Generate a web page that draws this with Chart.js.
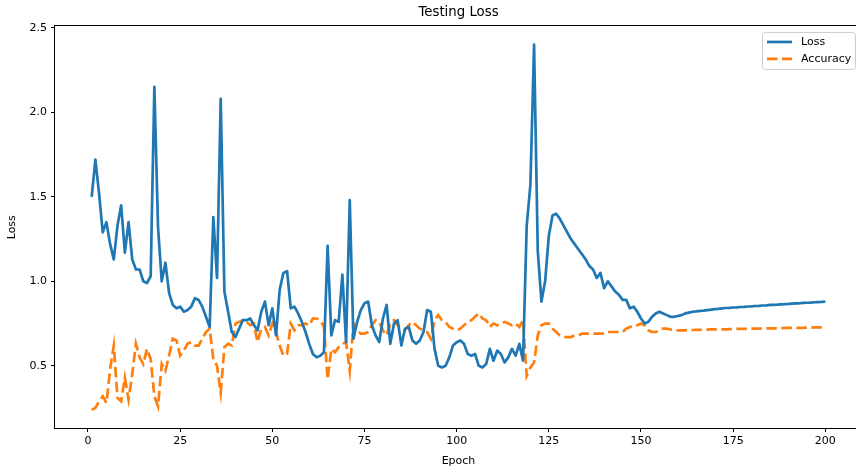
<!DOCTYPE html>
<html>
<head>
<meta charset="utf-8">
<script src="https://cdn.jsdelivr.net/npm/chart.js@4.4.1/dist/chart.umd.min.js"></script>
<style>
  html, body { margin: 0; padding: 0; background: #fff; overflow: hidden; }
  #wrap { width: 856px; height: 471px; overflow: hidden; }
</style>
</head>
<body>
<div id="wrap"><canvas id="lossChart" width="864" height="471"></canvas></div>
<script>
// testing loss per epoch
const lossValues = [
  1.50, 1.72, 1.52, 1.29, 1.35, 1.22, 1.13, 1.33, 1.45, 1.17,
  1.35, 1.13, 1.07, 1.07, 1.00, 0.99, 1.03, 2.15, 1.32, 1.00,
  1.11, 0.93, 0.86, 0.84, 0.85, 0.82, 0.83, 0.85, 0.90, 0.89,
  0.85, 0.79, 0.73, 1.38, 1.02, 2.08, 0.94, 0.82, 0.70, 0.67,
  0.72, 0.77, 0.77, 0.78, 0.74, 0.71, 0.82, 0.88, 0.74, 0.84,
  0.68, 0.95, 1.05, 1.06, 0.84, 0.85, 0.81, 0.76, 0.70, 0.63,
  0.57, 0.55, 0.56, 0.58, 1.21, 0.68, 0.77, 0.76, 1.04, 0.64,
  1.48, 0.66, 0.76, 0.83, 0.87, 0.88, 0.74, 0.68, 0.64, 0.78,
  0.86, 0.63, 0.75, 0.77, 0.62, 0.72, 0.73, 0.65, 0.63, 0.65,
  0.70, 0.83, 0.82, 0.60, 0.50, 0.49, 0.50, 0.55, 0.62, 0.64,
  0.65, 0.63, 0.57, 0.56, 0.57, 0.50, 0.49, 0.51, 0.60, 0.53,
  0.59, 0.57, 0.52, 0.55, 0.60, 0.56, 0.63, 0.53, 1.33, 1.57,
  2.40, 1.18, 0.88, 1.00, 1.27, 1.39, 1.40, 1.37, 1.33, 1.29,
  1.25, 1.22, 1.19, 1.16, 1.13, 1.09, 1.07, 1.02, 1.05, 0.96,
  1.00, 0.97, 0.94, 0.92, 0.89, 0.89, 0.84, 0.85, 0.82, 0.78,
  0.75, 0.76, 0.79, 0.81, 0.82, 0.81, 0.80, 0.79, 0.79, 0.795,
  0.80, 0.81, 0.815, 0.82, 0.822, 0.825, 0.827, 0.83, 0.832, 0.835,
  0.837, 0.840, 0.842, 0.843, 0.845, 0.846, 0.848, 0.849, 0.851, 0.852,
  0.854, 0.855, 0.857, 0.858, 0.860, 0.861, 0.862, 0.864, 0.865, 0.866,
  0.868, 0.869, 0.870, 0.872, 0.873, 0.874, 0.876, 0.877, 0.878, 0.880
];

const accuracyValues = [
  0.24, 0.25, 0.29, 0.32, 0.28, 0.48, 0.62, 0.31, 0.29, 0.43,
  0.30, 0.45, 0.63, 0.55, 0.51, 0.60, 0.54, 0.32, 0.26, 0.51,
  0.47, 0.56, 0.66, 0.65, 0.56, 0.59, 0.63, 0.64, 0.62, 0.62,
  0.66, 0.70, 0.72, 0.54, 0.50, 0.34, 0.61, 0.63, 0.62, 0.75,
  0.76, 0.77, 0.76, 0.74, 0.75, 0.64, 0.72, 0.73, 0.68, 0.75,
  0.70, 0.62, 0.56, 0.57, 0.75, 0.71, 0.74, 0.74, 0.75, 0.74,
  0.78, 0.78, 0.77, 0.73, 0.42, 0.60, 0.58, 0.61, 0.63, 0.64,
  0.47, 0.75, 0.71, 0.69, 0.69, 0.70, 0.74, 0.77, 0.76, 0.71,
  0.68, 0.75, 0.77, 0.74, 0.72, 0.71, 0.74, 0.76, 0.74, 0.72,
  0.71, 0.70, 0.66, 0.77, 0.80, 0.77, 0.76, 0.73, 0.72, 0.71,
  0.72, 0.74, 0.76, 0.77, 0.79, 0.81, 0.78, 0.77, 0.73, 0.75,
  0.74, 0.75, 0.76, 0.75, 0.74, 0.75, 0.73, 0.77, 0.44, 0.49,
  0.52, 0.68, 0.74, 0.75, 0.75, 0.72, 0.70, 0.68, 0.67, 0.67,
  0.67, 0.68, 0.68, 0.69, 0.69, 0.69, 0.69, 0.69, 0.69, 0.69,
  0.70, 0.70, 0.70, 0.70, 0.70, 0.72, 0.73, 0.73, 0.74, 0.75,
  0.74, 0.71, 0.70, 0.70, 0.71, 0.72, 0.72, 0.715, 0.71, 0.71,
  0.71, 0.71, 0.712, 0.712, 0.713, 0.713, 0.714, 0.714, 0.715, 0.715,
  0.715, 0.716, 0.716, 0.717, 0.717, 0.718, 0.718, 0.719, 0.719, 0.72,
  0.72, 0.72, 0.721, 0.721, 0.722, 0.722, 0.723, 0.723, 0.724, 0.724,
  0.724, 0.725, 0.725, 0.725, 0.726, 0.726, 0.727, 0.727, 0.727, 0.728
];

const epochs = lossValues.map((_, i) => i + 1);
const xTicks = [0, 25, 50, 75, 100, 125, 150, 175, 200];
const yTicks = [0.5, 1.0, 1.5, 2.0, 2.5];

const FONT = 'DejaVu Sans';
Chart.defaults.font.family = FONT;
Chart.defaults.color = '#000';

// black box round the plot, like matplotlib spines
const framePlugin = {
  id: 'frame',
  afterDatasetsDraw(chart) {
    const { ctx, chartArea: a } = chart;
    ctx.save();
    ctx.strokeStyle = '#000';
    ctx.lineWidth = 1;
    const l = Math.round(a.left) - 0.5, t = Math.round(a.top) - 0.5;
    ctx.strokeRect(l, t, Math.round(a.right) - Math.round(a.left) + 1, Math.round(a.bottom) - Math.round(a.top) + 1);
    ctx.restore();
  }
};

// legend box in the upper right corner of the plot
const boxLegend = {
  id: 'boxLegend',
  afterDraw(chart) {
    const { ctx, chartArea: a } = chart;
    const w = 93, h = 37;
    const x = a.right - 7 - w, y = a.top + 5.5;
    ctx.save();
    ctx.beginPath();
    ctx.roundRect(x + 0.5, y + 0.5, w, h, 3);
    ctx.fillStyle = 'rgba(255,255,255,0.8)';
    ctx.fill();
    ctx.strokeStyle = '#cccccc';
    ctx.lineWidth = 1;
    ctx.stroke();
    ctx.font = '11px "' + FONT + '"';
    ctx.textBaseline = 'middle';
    chart.data.datasets.forEach((ds, i) => {
      const ly = y + 10 + i * 17;
      ctx.beginPath();
      ctx.setLineDash(ds.borderDash || []);
      ctx.strokeStyle = ds.borderColor;
      ctx.lineWidth = ds.borderWidth;
      ctx.moveTo(x + 5, ly);
      ctx.lineTo(x + 30, ly);
      ctx.stroke();
      ctx.setLineDash([]);
      ctx.fillStyle = '#000';
      ctx.fillText(ds.label, x + 39, ly);
    });
    ctx.restore();
  }
};

new Chart(document.getElementById('lossChart'), {
  type: 'line',
  data: {
    datasets: [{
      label: 'Loss',
      data: epochs.map((e, i) => ({ x: e, y: lossValues[i] })),
      borderColor: '#1f77b4',
      borderWidth: 2.7,
      pointRadius: 0,
      tension: 0,
      borderJoinStyle: 'round'
    }, {
      label: 'Accuracy',
      data: epochs.map((e, i) => ({ x: e, y: accuracyValues[i] })),
      borderColor: '#ff7f0e',
      borderWidth: 2.7,
      borderDash: [10.5, 4.5],
      borderCapStyle: 'butt',
      pointRadius: 0,
      tension: 0
    }]
  },
  options: {
    responsive: false,
    animation: false,
    devicePixelRatio: 1,
    layout: { padding: { left: 0, right: 2, top: 0, bottom: 0 } },
    plugins: {
      legend: { display: false },
      tooltip: { enabled: false },
      title: {
        display: true,
        text: 'Testing Loss',
        fullSize: false,
        color: '#000',
        font: { size: 13.3, weight: 'normal', family: FONT },
        padding: { top: 5, bottom: 5.5 }
      }
    },
    scales: {
      x: {
        type: 'linear',
        min: -8.95,
        max: 209.95,
        afterBuildTicks: s => { s.ticks = xTicks.map(v => ({ value: v })); },
        afterFit: s => { s.height = 43; },
        border: { display: false },
        grid: { drawOnChartArea: false, drawTicks: true, tickLength: 4, tickColor: '#000' },
        ticks: { font: { size: 11 }, padding: 3, maxRotation: 0, callback: v => String(v) },
        title: { display: true, text: 'Epoch', font: { size: 11 }, padding: { top: 0, bottom: 3 } }
      },
      y: {
        min: 0.132,
        max: 2.508,
        afterBuildTicks: s => { s.ticks = yTicks.map(v => ({ value: v })); },
        afterFit: s => { s.width = 55; },
        border: { display: false },
        grid: { drawOnChartArea: false, drawTicks: true, tickLength: 4, tickColor: '#000' },
        ticks: { font: { size: 11 }, padding: 4, callback: v => v.toFixed(1) },
        title: { display: true, text: 'Loss', font: { size: 11 }, padding: { top: 6, bottom: 0 } }
      }
    }
  },
  plugins: [framePlugin, boxLegend]
});
</script>
</body>
</html>
